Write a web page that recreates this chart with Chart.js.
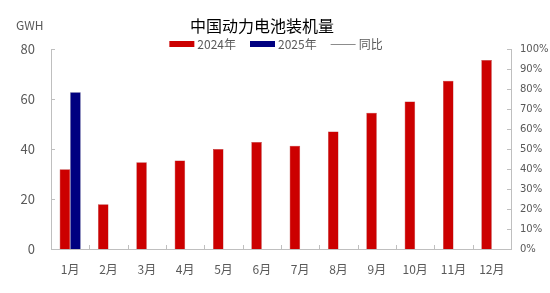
<!DOCTYPE html>
<html>
<head>
<meta charset="utf-8">
<script src="https://cdn.jsdelivr.net/npm/chart.js@4/dist/chart.umd.min.js"></script>
<style>
  html, body { margin: 0; padding: 0; background: #fff; }
  #wrap { width: 550px; height: 293px; }
</style>
</head>
<body>
<div id="wrap"><canvas id="myChart" width="550" height="293"></canvas></div>
<script>
const months = ['1月', '2月', '3月', '4月', '5月', '6月', '7月', '8月', '9月', '10月', '11月', '12月'];
const data2024 = [31.9, 17.9, 34.7, 35.4, 40.0, 42.8, 41.3, 47.0, 54.5, 59.0, 67.3, 75.6];
const data2025 = [62.7, null, null, null, null, null, null, null, null, null, null, null];
// no yoy values are drawn in the picture
const yoy = [null, null, null, null, null, null, null, null, null, null, null, null];

const cjk = "'Noto Sans CJK SC', 'Noto Sans', sans-serif";
const axisGray = '#bfbfbf';
const textGray = '#595959';

// title, legend, small inward tick marks and the GWH unit label
const extras = {
  id: 'extras',
  afterDraw(chart) {
    const ctx = chart.ctx;
    const area = chart.chartArea;
    const y = chart.scales.y, y1 = chart.scales.y1, x = chart.scales.x;
    ctx.save();
    ctx.strokeStyle = axisGray;
    ctx.lineWidth = 1;
    ctx.beginPath();
    y.ticks.forEach((t, i) => {
      const py = Math.round(y.getPixelForTick(i)) + 0.5;
      ctx.moveTo(area.left, py); ctx.lineTo(area.left + 4, py);
    });
    y1.ticks.forEach((t, i) => {
      const py = Math.round(y1.getPixelForTick(i)) + 0.5;
      ctx.moveTo(area.right, py); ctx.lineTo(area.right - 4, py);
    });
    for (let i = 1; i < months.length; i++) {
      const px = Math.round((x.getPixelForValue(i - 1) + x.getPixelForValue(i)) / 2) + 0.5;
      ctx.moveTo(px, area.bottom); ctx.lineTo(px, area.bottom - 4);
    }
    ctx.stroke();

    ctx.fillStyle = textGray;
    ctx.font = "12px " + cjk;
    ctx.textAlign = 'left';
    ctx.textBaseline = 'middle';
    ctx.fillText('GWH', 16, 25);

    // title
    ctx.fillStyle = '#000';
    ctx.font = "16px " + cjk;
    ctx.textAlign = 'center';
    ctx.fillText('中国动力电池装机量', 262, 26);

    // legend
    ctx.font = "12px " + cjk;
    ctx.textAlign = 'left';
    const boxW = 25, gap = 3, itemGap = 14, ly = 44;
    const sets = chart.data.datasets;
    let total = 0;
    sets.forEach((ds, i) => {
      total += boxW + gap + ctx.measureText(ds.label).width + (i < sets.length - 1 ? itemGap : 0);
    });
    let lx = 276 - total / 2;
    sets.forEach(ds => {
      if (ds.type === 'line') {
        ctx.strokeStyle = ds.borderColor;
        ctx.lineWidth = 1;
        ctx.beginPath();
        ctx.moveTo(lx, ly + 0.5); ctx.lineTo(lx + boxW, ly + 0.5);
        ctx.stroke();
      } else {
        ctx.fillStyle = ds.backgroundColor;
        ctx.fillRect(lx, ly - 3, boxW, 6);
      }
      lx += boxW + gap;
      ctx.fillStyle = textGray;
      ctx.fillText(ds.label, lx, ly);
      lx += ctx.measureText(ds.label).width + itemGap;
    });
    ctx.restore();
  }
};

new Chart(document.getElementById('myChart'), {
  type: 'bar',
  data: {
    labels: months,
    datasets: [
      {
        label: '2024年',
        data: data2024,
        backgroundColor: '#cc0000',
        borderColor: '#b03030',
        borderWidth: 0.5,
        yAxisID: 'y'
      },
      {
        label: '2025年',
        data: data2025,
        backgroundColor: '#000080',
        borderColor: '#1a1a70',
        borderWidth: 0.5,
        yAxisID: 'y'
      },
      {
        type: 'line',
        label: '同比',
        data: yoy,
        borderColor: '#8c8c8c',
        backgroundColor: '#8c8c8c',
        borderWidth: 1,
        pointRadius: 0,
        yAxisID: 'y1'
      }
    ]
  },
  options: {
    responsive: false,
    animation: false,
    layout: { padding: { top: 49, left: 0, right: 0, bottom: 0 } },
    datasets: {
      bar: { categoryPercentage: 0.55, barPercentage: 1 }
    },
    plugins: {
      title: { display: false },
      legend: { display: false },
      tooltip: { enabled: false }
    },
    scales: {
      x: {
        grid: { display: false, drawTicks: false },
        border: { display: true, color: axisGray },
        ticks: { color: textGray, font: { family: cjk, size: 12 }, padding: 13 },
        afterFit(scale) { scale.height = 44; }
      },
      y: {
        position: 'left',
        min: 0, max: 80,
        ticks: { stepSize: 20, color: textGray, font: { family: cjk, size: 13 }, padding: 16 },
        grid: { display: false, drawTicks: false },
        border: { display: true, color: axisGray },
        afterFit(scale) { scale.width = 51; }
      },
      y1: {
        position: 'right',
        min: 0, max: 100,
        ticks: {
          stepSize: 10, color: textGray,
          font: { family: "'DejaVu Sans', sans-serif", size: 10 },
          padding: 9,
          callback: v => v + '%'
        },
        grid: { display: false, drawTicks: false },
        border: { display: true, color: axisGray },
        afterFit(scale) { scale.width = 39; }
      }
    }
  },
  plugins: [extras]
});
</script>
</body>
</html>
